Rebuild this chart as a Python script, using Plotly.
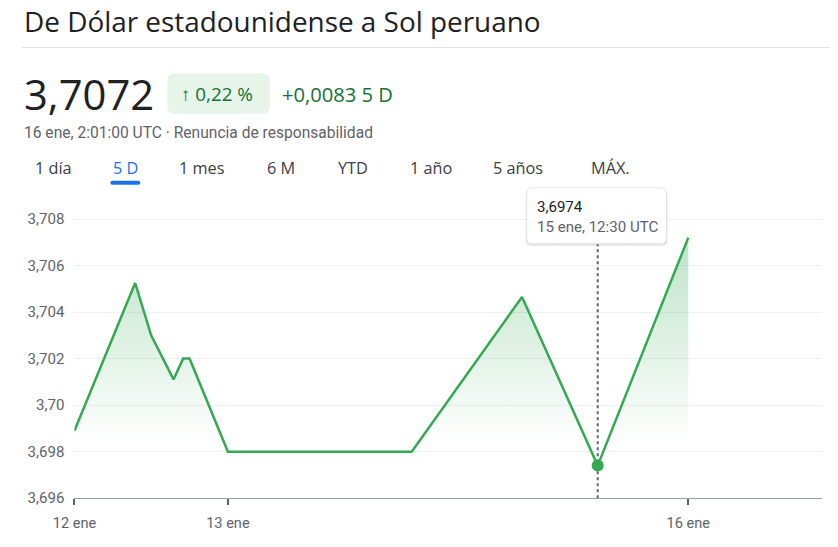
import plotly.graph_objects as go

# 5D series USD -> PEN
times = [
    "2024-01-12 00:00", "2024-01-12 09:30", "2024-01-12 12:00", "2024-01-12 15:30",
    "2024-01-12 17:00", "2024-01-12 18:00", "2024-01-13 00:00", "2024-01-14 04:45",
    "2024-01-14 22:00", "2024-01-15 09:50", "2024-01-16 00:00",
]
rates = [3.6989, 3.70525, 3.7030, 3.7011, 3.7020, 3.7020, 3.6980, 3.6980,
         3.70465, 3.6974, 3.7072]

y_ticks = [3.696, 3.698, 3.700, 3.702, 3.704, 3.706, 3.708]
y_labels = ["3,696", "3,698", "3,70", "3,702", "3,704", "3,706", "3,708"]
x_ticks = ["2024-01-12", "2024-01-13", "2024-01-16"]
x_labels = ["12 ene", "13 ene", "16 ene"]

tabs = ["1 día", "5 D", "1 mes", "6 M", "YTD", "1 año", "5 años", "MÁX."]
tab_x = [52, 124, 201, 280, 352, 430, 517, 610]

hover_idx = 9
W, H = 830, 540
# screenshot maps page px -> picture px as  x*SX + BX,  y*SY + BY  (measured on earlier runs)
SX, BX, SY, BY = 0.975, 20.5, 0.982, 0.5
GREEN = "#34a853"
FONT = "Roboto, Arial, sans-serif"
HEAD = "'Open Sans', Roboto, sans-serif"


def fx(x):
    return max(0.0, (x - BX) / SX)


def fy(y):
    return (y - BY) / SY


def px(x):
    return fx(x) / W


def py(y):
    return 1 - fy(y) / H


def fs(size):
    return size / SY


def rounded_rect(x0, y0, x1, y1, r):
    # path in paper coords from a box given in picture px
    rx, ry = r / W, r / H
    X0, X1, Y0, Y1 = px(x0), px(x1), py(y1), py(y0)
    return (f"M {X0 + rx},{Y0} L {X1 - rx},{Y0} Q {X1},{Y0} {X1},{Y0 + ry} "
            f"L {X1},{Y1 - ry} Q {X1},{Y1} {X1 - rx},{Y1} L {X0 + rx},{Y1} "
            f"Q {X0},{Y1} {X0},{Y1 - ry} L {X0},{Y0 + ry} Q {X0},{Y0} {X0 + rx},{Y0} Z")


fig = go.Figure()

fig.add_trace(go.Scatter(
    x=times, y=rates, mode="lines",
    line=dict(color=GREEN, width=2.5),
    fill="tozeroy",
    fillgradient=dict(
        type="vertical", start=3.6985, stop=3.7072,
        colorscale=[[0, "rgba(52,168,83,0)"], [1, "rgba(52,168,83,0.32)"]],
    ),
    hoverinfo="skip", showlegend=False,
))

# hover marker + dotted guide
fig.add_trace(go.Scatter(
    x=[times[hover_idx], times[hover_idx]], y=[3.696, 3.70697], mode="lines",
    line=dict(color="#5f6368", width=2, dash="dot"),
    hoverinfo="skip", showlegend=False,
))
fig.add_trace(go.Scatter(
    x=[times[hover_idx]], y=[rates[hover_idx]], mode="markers",
    marker=dict(color=GREEN, size=12),
    hoverinfo="skip", showlegend=False,
))

shapes = [
    # separator under the title
    dict(type="line", xref="paper", yref="paper", x0=px(12), x1=1, y0=py(48), y1=py(48),
         line=dict(color="#e0e0e0", width=1)),
    # change badge
    dict(type="path", xref="paper", yref="paper", path=rounded_rect(166, 74, 269, 114, 8),
         fillcolor="#e6f4ea", line=dict(width=0)),
    # tab underline
    dict(type="path", xref="paper", yref="paper", path=rounded_rect(109, 181, 139, 185, 2),
         fillcolor="#1a73e8", line=dict(width=0)),
    # tooltip shadow + box
    dict(type="path", xref="paper", yref="paper", path=rounded_rect(525, 189, 667, 246, 6),
         fillcolor="rgba(0,0,0,0.10)", line=dict(width=0)),
    dict(type="path", xref="paper", yref="paper", path=rounded_rect(526, 188, 666, 244, 6),
         fillcolor="white", line=dict(color="#e3e3e3", width=1)),
]

ann = [
    dict(text="3,7072", x=12, y=94, size=41, color="#202124", f=HEAD),
    dict(text="↑ 0,22 %", x=178, y=94, size=18.5, color="#137333", f=HEAD),
    dict(text="+0,0083 5 D", x=279, y=94, size=19.8, color="#137333", f=HEAD),
    dict(text="16 ene, 2:01:00 UTC · Renuncia de responsabilidad", x=12, y=133,
         size=15.3, color="#5f6368", f=FONT),
    dict(text=f"{rates[hover_idx]:.4f}".replace(".", ","), x=534, y=207, size=14.8, color="#202124", f=FONT),
    dict(text="15 ene, 12:30 UTC", x=534, y=227, size=14.8, color="#5f6368", f=FONT),
]
annotations = [
    dict(text=a["text"], x=px(a["x"]), y=py(a["y"]), xref="paper", yref="paper",
         xanchor="left", yanchor="middle", showarrow=False,
         font=dict(family=a["f"], size=fs(a["size"]), color=a["color"]))
    for a in ann
]
annotations.append(dict(
    text="De Dólar estadounidense a Sol peruano", x=0, y=1, xref="paper", yref="paper",
    xanchor="left", yanchor="top", showarrow=False,
    font=dict(family=HEAD, size=fs(27.4), color="#202124"),
))
for t, tx in zip(tabs, tab_x):
    annotations.append(dict(
        text=t, x=px(tx), y=py(168), xref="paper", yref="paper",
        xanchor="center", yanchor="middle", showarrow=False,
        font=dict(family=HEAD, size=fs(16), color="#1a73e8" if t == "5 D" else "#3c4043"),
    ))

fig.update_layout(
    width=W, height=H,
    margin=dict(l=0, r=0, t=0, b=0),
    paper_bgcolor="white", plot_bgcolor="white",
    font=dict(family=FONT, size=fs(14), color="#5f6368"),
    hovermode=False,
    shapes=shapes,
    annotations=annotations,
    xaxis=dict(
        domain=[px(73), px(822)],
        range=["2024-01-12 00:00", "2024-01-16 20:57"],
        tickvals=x_ticks, ticktext=x_labels,
        ticks="outside", ticklen=6, tickwidth=2, tickcolor="#5f6368",
        ticklabelstandoff=5,
        showgrid=False, zeroline=False,
        showline=True, linecolor="#9aa0a6", linewidth=1,
        tickfont=dict(size=fs(14.3), color="#5f6368"),
    ),
    yaxis=dict(
        domain=[py(498), py(196)],
        range=[3.696, 3.709],
        tickvals=y_ticks, ticktext=y_labels,
        showgrid=True, gridcolor="#f0f0f0", gridwidth=1,
        zeroline=False, showline=False, ticks="",
        ticklabelstandoff=9,
        tickfont=dict(size=fs(14.8), color="#5f6368"),
    ),
)

fig.write_html("out.html", config={"displayModeBar": False},
               post_script="document.body.style.margin='0px';")
